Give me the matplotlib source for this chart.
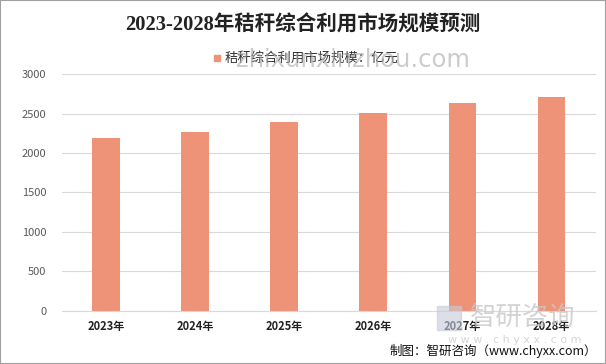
import matplotlib.pyplot as plt
import matplotlib.patches as patches

plt.rcParams['font.family'] = ['Noto Sans CJK SC', 'DejaVu Sans']

years = ["2023年", "2024年", "2025年", "2026年", "2027年", "2028年"]
values = [2192, 2268, 2395, 2509, 2636, 2712]
series_name = "秸秆综合利用市场规模：亿元"
title = "2023-2028年秸秆综合利用市场规模预测"
source = "制图：智研咨询（www.chyxx.com）"

fig = plt.figure(figsize=(6.06, 3.64), dpi=100)
ax = fig.add_axes([61.5 / 606, 1 - 310.7 / 364, 534.5 / 606, 236.4 / 364])

x = range(len(years))
ax.bar(x, values, width=0.31, color='#EE9278', zorder=2, label=series_name)

ax.set_xlim(-0.5, len(years) - 0.5)
ax.set_ylim(0, 3000)
ax.set_yticks(range(0, 3001, 500))
ax.set_xticks(list(x))
ax.set_xticklabels(years, fontsize=8, fontweight='bold', color='#222222')
ax.tick_params(axis='y', labelsize=8, colors='#595959', length=0, pad=11)
ax.tick_params(axis='x', length=0, pad=7)
ax.grid(True, axis='y', color='#d9d9d9', linewidth=0.8, zorder=0)
for s in ['left', 'right', 'top']:
    ax.spines[s].set_visible(False)
ax.spines['bottom'].set_color('#d9d9d9')

fig.text(0.5, 1 - 25 / 364, title, ha='center', va='center',
         fontsize=14.8, fontweight='bold', color='#222222',
         family=['Liberation Serif', 'Noto Sans CJK SC'])

# legend
fig.patches.append(patches.Rectangle((214 / 606, 1 - 61 / 364), 6 / 606, 6 / 364,
                                     transform=fig.transFigure, color='#EE9278'))
fig.text(225 / 606, 1 - 58 / 364, series_name, ha='left', va='center',
         fontsize=9.6, color='#333333')

# watermarks
fig.text(236 / 606, 1 - 60 / 364, "zhixunxinzhou.com", ha='left', va='center',
         fontsize=17.5, color='#aaaaaa', alpha=0.6, family='DejaVu Sans')
fig.text(470 / 606, 1 - 317 / 364, "智研咨询", ha='left', va='center',
         fontsize=19, color='#c8c8c8', alpha=0.8)
fig.text(448 / 606, 1 - 340 / 364, "w w w . c h y x x . c o m", ha='left', va='center',
         fontsize=8, color='#cccccc', alpha=0.8, family='DejaVu Sans')
fig.patches.append(patches.Rectangle((437 / 606, 1 - 330 / 364), 24 / 606, 24 / 364,
                                     transform=fig.transFigure, color='#c5cbd8', alpha=0.6))

fig.text(597 / 606, 1 - 351 / 364, source, ha='right', va='center',
         fontsize=9, color='#111111')

fig.patches.append(patches.Rectangle((0, 0), 1, 1, transform=fig.transFigure,
                                     fill=False, edgecolor='#a0a0a0', linewidth=1.5))

fig.savefig('out.png', dpi=100)
